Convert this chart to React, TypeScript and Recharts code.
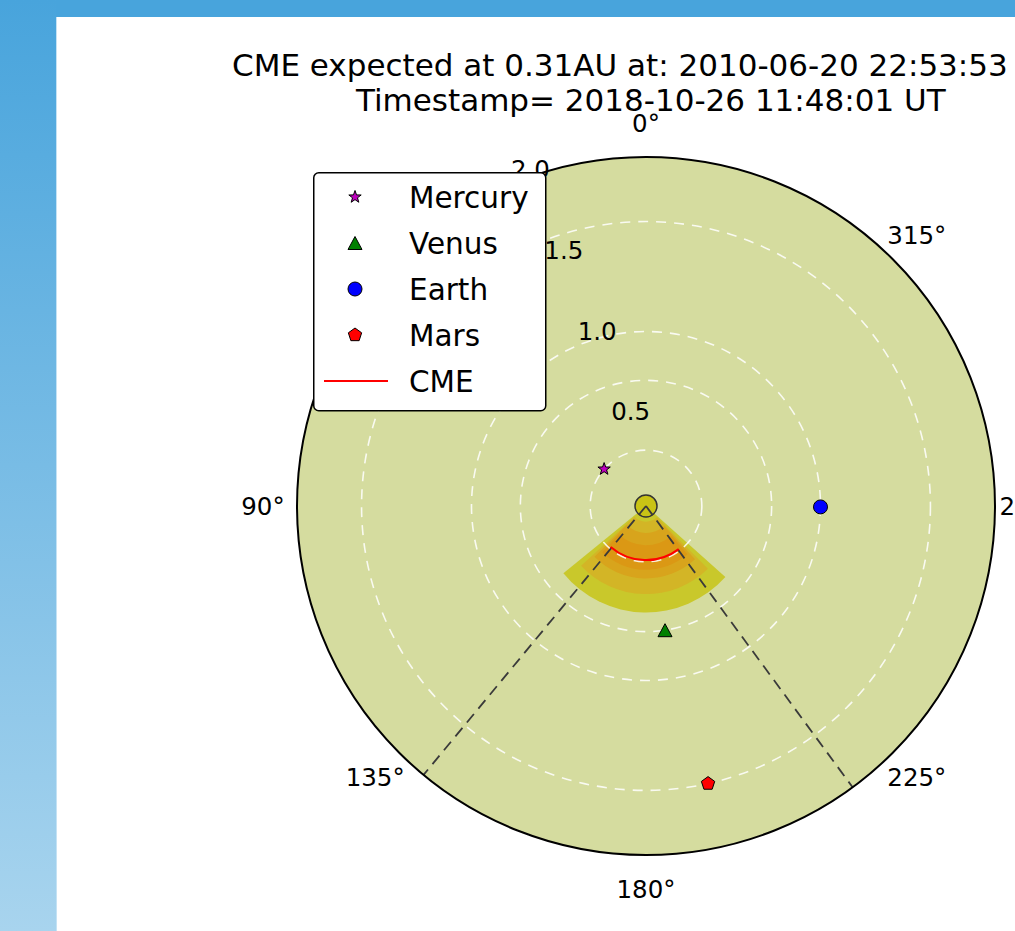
"use client"

import React from "react"
import {
  RadarChart,
  Radar,
  PolarAngleAxis,
  PolarRadiusAxis,
  Legend,
  Sector,
} from "recharts"

const FONT = '"DejaVu Sans", Verdana, sans-serif'

const titleLines = [
  "CME expected at 0.31AU at: 2010-06-20 22:53:53",
  "Timestamp= 2018-10-26 11:48:01 UT",
]

// polar axes (angle counter-clockwise from the top, distance in AU)
const angleTicks = [0, 45, 90, 135, 180, 225, 270, 315]
const radiusTicks = [0.5, 1.0, 1.5, 2.0]
const radiusMax = 2.0

// planets
const planetNames = ["Mercury", "Venus", "Earth", "Mars"]
const planetAngles = [48.6, 188.7, 269.7, 192.6]
const planetDistances = [0.32, 0.72, 1.0, 1.63]
const planetColors = ["#bf00bf", "#008000", "#0000ff", "#ff0000"]
const planetMarkers = ["star", "triangle", "circle", "pentagon"]

// CME front and cone edges
const cmeDistance = 0.31
const cmeArcAngles = [139.2, 217.2]
const cmeEdgeAngles = [140.4, 216.3]

// CME density bands, outermost first: [inner, outer] AU over [start, end] deg
const bandStart = [129.1, 132.6, 134.6, 136.6]
const bandEnd = [228.2, 224.6, 222.6, 220.6]
const bandInner = [0, 0.09, 0.155, 0.225]
const bandOuter = [0.61, 0.505, 0.415, 0.365]
const bandColors = ["#c9c82b", "#d3b526", "#d8a41c", "#db9814"]

type Row = { deg: number; [key: string]: number | number[] }

const rows: Row[] = [
  { deg: 0, disk: radiusMax, sun: 0 },
  ...planetNames.map((name, i) => ({
    deg: planetAngles[i],
    [name]: planetDistances[i],
    orbit: planetDistances[i],
  })),
  ...cmeEdgeAngles.map((deg) => ({ deg, edge: radiusMax })),
  ...cmeArcAngles.map((deg) => ({ deg, cme: cmeDistance })),
  ...bandColors.flatMap((_, i) => [
    { deg: bandStart[i], [`band${i}`]: [bandInner[i], bandOuter[i]] },
    { deg: bandEnd[i], [`band${i}`]: [bandInner[i], bandOuter[i]] },
  ]),
]

// radar points that actually carry a value for this key
const pick = (points: any[] | undefined, key: string) =>
  (points ?? []).filter(
    (p) => p && p.payload && p.payload[key] != null && Number.isFinite(p.radius)
  )

const Marker = ({ kind, x, y, color }: { kind: string; x: number; y: number; color: string }) => {
  const edge = { stroke: "#000", strokeWidth: 1 }
  if (kind === "circle") return <circle cx={x} cy={y} r={7} fill={color} {...edge} />
  if (kind === "triangle")
    return (
      <polygon
        points={`${x},${y - 6.5} ${x + 7},${y + 6.5} ${x - 7},${y + 6.5}`}
        fill={color}
        {...edge}
      />
    )
  const n = kind === "star" ? 10 : 5
  const pts: string[] = []
  for (let k = 0; k < n; k++) {
    const a = (-90 + (k * 360) / n) * (Math.PI / 180)
    const r = kind === "star" ? (k % 2 === 0 ? 6.5 : 2.6) : 7
    pts.push(`${x + r * Math.cos(a)},${y + r * Math.sin(a)}`)
  }
  return <polygon points={pts.join(" ")} fill={color} {...edge} />
}

const diskShape = (props: any) => {
  const [p] = pick(props.points, "disk")
  if (!p) return <g />
  return <circle cx={p.cx} cy={p.cy} r={p.radius} fill="#d5dc9f" />
}

const bandShape = (key: string, color: string) => (props: any) => {
  const pts = pick(props.points, key)
  if (pts.length < 2) return <g />
  const [a, b] = pts
  const base = pick(props.baseLinePoints, key)
  const v = a.payload[key] as number[]
  const inner = base.length ? base[0].radius : (a.radius * v[0]) / v[1]
  return (
    <Sector
      cx={a.cx}
      cy={a.cy}
      innerRadius={inner}
      outerRadius={a.radius}
      startAngle={a.angle}
      endAngle={b.angle}
      fill={color}
      stroke="none"
    />
  )
}

const orbitShape = (props: any) => (
  <g>
    {pick(props.points, "orbit").map((p, i) => (
      <circle
        key={i}
        cx={p.cx}
        cy={p.cy}
        r={p.radius}
        fill="none"
        stroke="#ffffff"
        strokeOpacity={0.85}
        strokeWidth={1.6}
        strokeDasharray="10 8"
      />
    ))}
  </g>
)

const sunShape = (props: any) => {
  const [p] = pick(props.points, "sun")
  if (!p) return <g />
  return <circle cx={p.x} cy={p.y} r={11} fill="#c9c315" stroke="#333" strokeWidth={1.5} />
}

const edgeShape = (props: any) => (
  <g>
    {pick(props.points, "edge").map((p, i) => (
      <line
        key={i}
        x1={p.cx}
        y1={p.cy}
        x2={p.x}
        y2={p.y}
        stroke="#3a3a3a"
        strokeWidth={1.8}
        strokeDasharray="11 7"
      />
    ))}
  </g>
)

const cmeShape = (props: any) => {
  const pts = pick(props.points, "cme")
  if (pts.length < 2) return <g />
  const [a, b] = pts
  return (
    <path
      d={`M ${a.x} ${a.y} A ${a.radius} ${a.radius} 0 0 0 ${b.x} ${b.y}`}
      fill="none"
      stroke="#ff0000"
      strokeWidth={2}
    />
  )
}

const planetShape = (i: number) => (props: any) => {
  const [p] = pick(props.points, planetNames[i])
  if (!p) return <g />
  return <Marker kind={planetMarkers[i]} x={p.x} y={p.y} color={planetColors[i]} />
}

const AngleTick = (props: any) => (
  <text
    x={props.x}
    y={props.y}
    dy="0.3645em"
    textAnchor="middle"
    fontFamily={FONT}
    fontSize={24.5}
    fill="#000"
  >
    {`${props.payload.value}°`}
  </text>
)

const RadiusTick = (props: any) => {
  const v = Number(props.payload.value)
  if (!v) return <g />
  return (
    <text
      x={props.x + 18}
      y={props.y - 14}
      dy="0.3645em"
      textAnchor="middle"
      fontFamily={FONT}
      fontSize={24.5}
      fill="#000"
    >
      {v.toFixed(1)}
    </text>
  )
}

const LegendBox = () => (
  <svg width={234} height={240} style={{ display: "block" }}>
    <rect x={0.75} y={0.75} width={232} height={238} rx={5} fill="#fff" stroke="#000" strokeWidth={1.5} />
    {planetNames.map((name, i) => (
      <g key={name}>
        <Marker kind={planetMarkers[i]} x={42} y={25 + 46 * i} color={planetColors[i]} />
        <text x={96} y={25 + 46 * i} dy="0.3645em" fontFamily={FONT} fontSize={29.5} fill="#000">
          {name}
        </text>
      </g>
    ))}
    <line x1={11} x2={75} y1={209} y2={209} stroke="#ff0000" strokeWidth={2} />
    <text x={96} y={209} dy="0.3645em" fontFamily={FONT} fontSize={29.5} fill="#000">
      CME
    </text>
  </svg>
)

export default function App() {
  return (
    <div
      style={{
        position: "absolute",
        left: 0,
        top: 0,
        width: 1015,
        height: 931,
        overflow: "hidden",
        background: "#fff",
      }}
    >
      <div style={{ position: "absolute", left: 0, top: 0, width: 1015, height: 17, background: "#48a4dc" }} />
      <div
        style={{
          position: "absolute",
          left: 0,
          top: 0,
          width: 56,
          height: 931,
          background: "linear-gradient(to bottom, #48a4dc, #a8d4ee)",
        }}
      />
      <div style={{ position: "absolute", left: 56, top: 17, width: 1, height: 914, background: "#c4e2f4" }} />

      <svg width={1015} height={140} style={{ position: "absolute", left: 0, top: 0 }}>
        <text x={232} y={76} fontFamily={FONT} fontSize={31} fill="#000">
          {titleLines[0]}
        </text>
        <text x={356} y={111} fontFamily={FONT} fontSize={31} fill="#000">
          {titleLines[1]}
        </text>
      </svg>

      <div style={{ position: "absolute", left: 0, top: 0 }}>
        <RadarChart
          width={1100}
          height={931}
          data={rows}
          cx={646}
          cy={506}
          outerRadius={349}
          startAngle={90}
          endAngle={450}
          margin={{ top: 0, right: 0, bottom: 0, left: 0 }}
        >
          <Radar dataKey="disk" shape={diskShape} isAnimationActive={false} legendType="none" />
          {bandColors.map((color, i) => (
            <Radar
              key={`band${i}`}
              dataKey={`band${i}`}
              shape={bandShape(`band${i}`, color)}
              isAnimationActive={false}
              legendType="none"
            />
          ))}
          <Radar dataKey="orbit" shape={orbitShape} isAnimationActive={false} legendType="none" />
          <Radar dataKey="sun" shape={sunShape} isAnimationActive={false} legendType="none" />
          <Radar dataKey="edge" shape={edgeShape} isAnimationActive={false} legendType="none" />
          <Radar dataKey="cme" name="CME" shape={cmeShape} isAnimationActive={false} />
          {planetNames.map((name, i) => (
            <Radar
              key={name}
              dataKey={name}
              name={name}
              shape={planetShape(i)}
              isAnimationActive={false}
            />
          ))}
          <PolarAngleAxis
            dataKey="deg"
            type="number"
            scale="linear"
            domain={[0, 360]}
            allowDataOverflow
            allowDuplicatedCategory={false}
            ticks={angleTicks}
            tickSize={34}
            tickLine={false}
            axisLineType="circle"
            axisLine={{ stroke: "#000", strokeWidth: 2 }}
            tick={AngleTick}
          />
          <PolarRadiusAxis
            angle={112.5}
            type="number"
            domain={[0, radiusMax]}
            allowDataOverflow
            ticks={radiusTicks}
            tickCount={5}
            axisLine={false}
            tickLine={false}
            tick={RadiusTick}
          />
          <Legend
            layout="vertical"
            align="center"
            verticalAlign="middle"
            content={() => <LegendBox />}
            wrapperStyle={{ left: 313, top: 172, width: 234, height: 240 }}
          />
        </RadarChart>
      </div>
    </div>
  )
}
